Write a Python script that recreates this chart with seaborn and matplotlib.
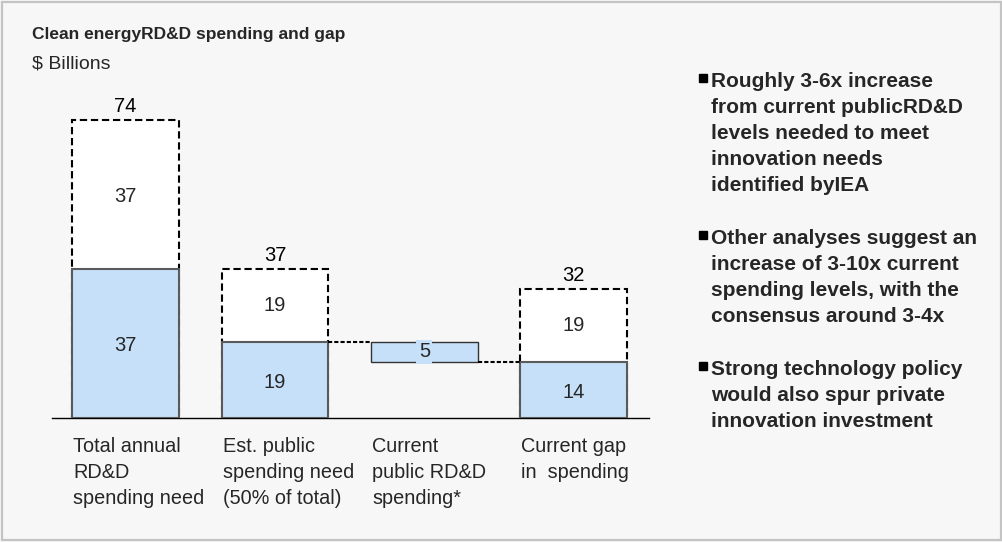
import matplotlib
matplotlib.use("Agg")
import matplotlib.pyplot as plt
from matplotlib.lines import Line2D
from matplotlib.patches import Rectangle
import pandas as pd
import seaborn as sns

# ---------------- data ----------------
categories = [
    "Total annual\nRD&D\nspending need",
    "Est. public\nspending need\n(50% of total)",
    "Current\npublic RD&D\nspending*",
    "Current gap\nin  spending",
]
base_values = [37, 19, None, 14]     # solid blue segments (from zero)
upper_values = [37, 19, None, 19]    # dashed white segments on top
total_values = [74, 37, None, 32]    # totals shown above bars
float_index = 2                      # floating bar (current public spending)
float_bottom = 14
float_value = 5

title = "Clean energyRD&D spending and gap"
subtitle = r"\$ Billions"
bullets = [
    ["Roughly 3-6x increase", "from current publicRD&D", "levels needed to meet",
     "innovation needs", "identified byIEA"],
    ["Other analyses suggest an", "increase of 3-10x current",
     "spending levels, with the", "consensus around 3-4x"],
    ["Strong technology policy", "would also spur private", "innovation investment"],
]

# ---------------- style ----------------
BLUE = "#C6E0F9"
BG = "#F7F7F7"
sns.set_theme(style="white")
plt.rcParams["font.family"] = ["Liberation Sans", "DejaVu Sans"]

fig = plt.figure(figsize=(10.03, 5.42), dpi=100)
fig.patch.set_facecolor(BG)
ax = fig.add_axes([0.0515, 0.2282, 0.5955, 0.6057])
ax.set_facecolor("none")

bar_w = 0.714

df_tot = pd.DataFrame({"cat": [c for c, t in zip(categories, total_values) if t is not None],
                       "val": [t for t in total_values if t is not None]})
df_base = pd.DataFrame({"cat": [c for c, b in zip(categories, base_values) if b is not None],
                        "val": [b for b in base_values if b is not None]})

# dashed total boxes
sns.barplot(data=df_tot, x="cat", y="val", order=categories, width=bar_w,
            color="white", saturation=1, edgecolor="black", linewidth=1.5,
            linestyle=(0, (3.5, 1.8)), errorbar=None, ax=ax, zorder=2)
# solid blue base segments
sns.barplot(data=df_base, x="cat", y="val", order=categories, width=bar_w,
            color=BLUE, saturation=1, edgecolor="#5a5a5a", linewidth=1.5,
            errorbar=None, ax=ax, zorder=3)
# floating bar
ax.bar(float_index, float_value, bottom=float_bottom, width=bar_w, color=BLUE,
       edgecolor="#333333", linewidth=1.0, zorder=3)

# connectors
ax.plot([1 + bar_w / 2, float_index - bar_w / 2], [float_bottom + float_value] * 2,
        color="black", lw=1.5, linestyle=(0, (2, 1)), zorder=4)
ax.plot([float_index + bar_w / 2, 3 - bar_w / 2], [float_bottom] * 2,
        color="black", lw=1.5, linestyle=(0, (2, 1)), zorder=4)

# value labels
for i, (b, u, t) in enumerate(zip(base_values, upper_values, total_values)):
    if t is None:
        continue
    ax.annotate(str(t), xy=(i, t), xytext=(0, 6), textcoords="offset points",
                ha="center", va="baseline", fontsize=14.5, color="black")
    ax.text(i, b / 2, str(b), ha="center", va="center_baseline", fontsize=14.5, zorder=5)
    ax.text(i, b + u / 2, str(u), ha="center", va="center_baseline", fontsize=14.5, zorder=5)
ax.text(float_index, float_bottom + float_value / 2, str(float_value), ha="center",
        va="center", fontsize=14.5, zorder=5,
        bbox=dict(boxstyle="square,pad=0.12", fc=BLUE, ec="none"))

# category labels
for i, cat in enumerate(categories):
    ax.annotate(cat, xy=(i - bar_w / 2, 0), xytext=(0.7, -13.8),
                textcoords="offset points", ha="left", va="top",
                fontsize=14.3, linespacing=1.45, annotation_clip=False)

ax.set_xlim(-0.495, 3.503)
ax.set_ylim(0, 81.45)
ax.set_xticks([])
ax.set_yticks([])
ax.set_xlabel("")
ax.set_ylabel("")
sns.despine(ax=ax, left=True)
ax.spines["bottom"].set_color("black")
ax.spines["bottom"].set_linewidth(1.0)

# titles
fig.text(32 / 1003, 1 - 39.3 / 542, title, fontsize=12.5, fontweight="bold", va="baseline")
fig.text(31.7 / 1003, 1 - 68.3 / 542, subtitle, fontsize=14, va="baseline")

# bullets
bullet_tops = [72.0, 228.8, 360.0]
square_centers = [78.3, 235.3, 366.2]
for lines, yt, ys in zip(bullets, bullet_tops, square_centers):
    fig.text(711 / 1003, 1 - yt / 542, "\n".join(lines), fontsize=15, fontweight="bold",
             va="top", ha="left", linespacing=1.47)
    fig.add_artist(Line2D([703 / 1003], [1 - ys / 542], marker="s", markersize=5.3,
                          color="black", linestyle="none", transform=fig.transFigure))

# outer border
fig.add_artist(Rectangle((0.002, 0.004), 0.996, 0.993, transform=fig.transFigure,
                         fill=False, edgecolor="#C4C4C4", linewidth=1.6))

fig.savefig("out.png", dpi=100, facecolor=fig.get_facecolor())
